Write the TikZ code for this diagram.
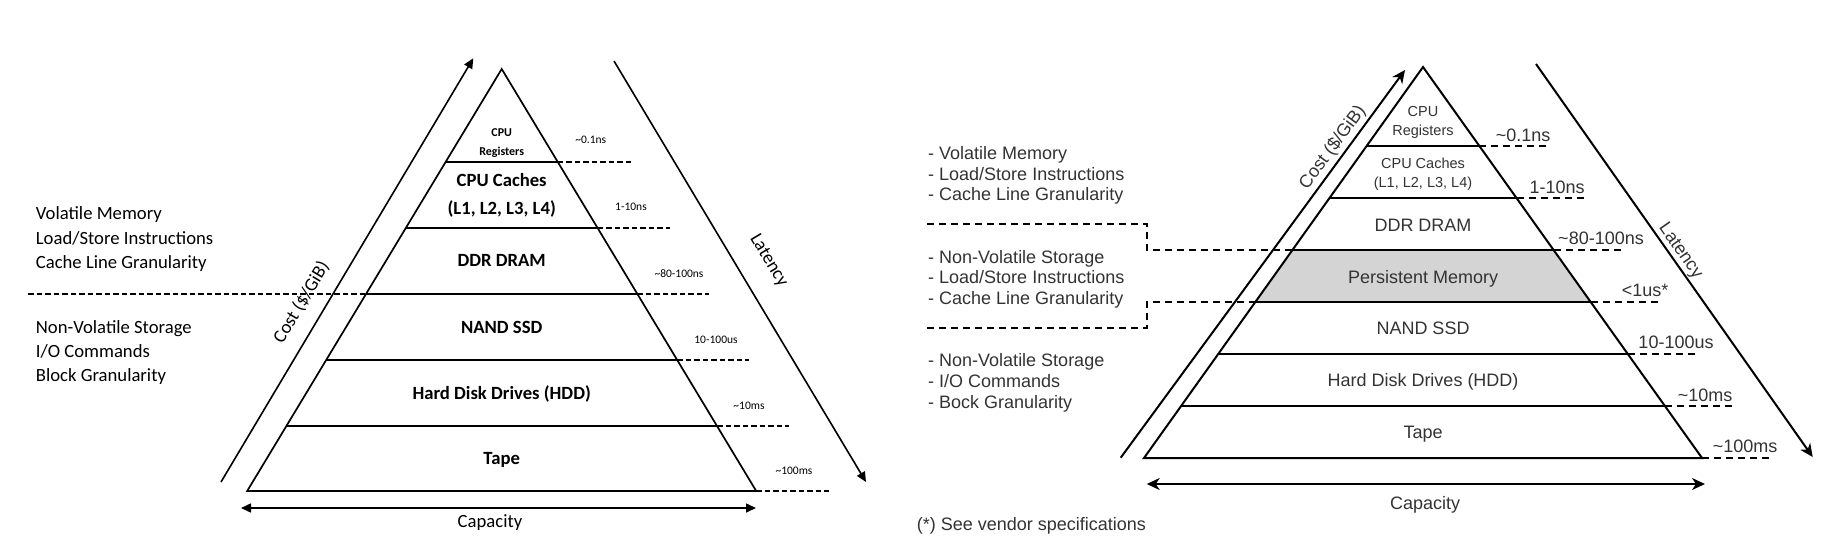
\documentclass[tikz,border=0pt]{standalone}
\usepackage{fontspec}
\newfontfamily\fcal{Carlito}
\newfontfamily\farial{Liberation Sans}
\usetikzlibrary{arrows.meta,calc}
\definecolor{rtext}{HTML}{333333}
\definecolor{pmfill}{HTML}{D4D4D4}
\begin{document}
\begin{tikzpicture}[x=1pt,y=-1pt,
  Lbig/.style={font=\fcal\bfseries\fontsize{18.67}{22}\selectfont, inner sep=0pt, text height=12pt, text depth=0pt},
  Lside/.style={font=\fcal\fontsize{18.67}{22}\selectfont, inner sep=0pt, text height=12pt, text depth=0pt},
  Lsmall/.style={font=\fcal\fontsize{11.5}{14}\selectfont, inner sep=0pt, text height=7.4pt, text depth=0pt},
  Lreg/.style={font=\fcal\bfseries\fontsize{12}{14}\selectfont, inner sep=0pt, text height=7.7pt, text depth=0pt},
  Lline/.style={line width=1.7pt},
  Ldash/.style={line width=1.4pt, dash pattern=on 5.5pt off 3pt},
  Ltip/.style={line width=1.6pt},
  Rbig/.style={font=\farial\fontsize{18}{21}\selectfont, text=rtext, inner sep=0pt, text height=12.9pt, text depth=0pt},
  Rmid/.style={font=\farial\fontsize{14.5}{17}\selectfont, text=rtext, inner sep=0pt, text height=10.4pt, text depth=0pt},
  Rline/.style={line width=2pt},
  Rdash/.style={line width=2pt, dash pattern=on 7pt off 5pt},
  Rtip/.style={line width=2pt},
]
\fill[white] (0,0) rectangle (1843,549);
\useasboundingbox (0,0) rectangle (1843,549);

% ================= LEFT DIAGRAM =================
\coordinate (LA) at (501.7,69);
\coordinate (LBL) at (247.2,491);
\coordinate (LBR) at (756.2,491);
\draw[Lline, line join=miter] (LBL) -- (LA) -- (LBR) -- cycle;
\draw[Lline] (445.6,162) -- (557.8,162);
\draw[Lline] (405.8,228) -- (597.6,228);
\draw[Lline] (366,294) -- (637.4,294);
\draw[Lline] (326.2,360) -- (677.2,360);
\draw[Lline] (286.4,426) -- (717,426);

% latency dashes
\draw[Ldash] (557.8,162) -- (631,162);
\draw[Ldash] (597.6,228) -- (670,228);
\draw[Ldash] (637.4,294) -- (709,294);
\draw[Ldash] (677.2,360) -- (749,360);
\draw[Ldash] (717,426) -- (789,426);
\draw[Ldash] (756.2,491) -- (829,491);
% separator
\draw[Ldash] (28,294) -- (366,294);

% arrows
\coordinate (LC0) at (221,482);
\coordinate (LC1) at (473.3,58.3);
\draw[Ltip, -{Triangle[length=10pt,width=9pt]}] (LC0) -- (LC1);
\coordinate (LL0) at (614,61);
\coordinate (LL1) at (866,482);
\draw[Ltip, -{Triangle[length=10pt,width=9pt]}] (LL0) -- (LL1);
\coordinate (LK0) at (241,508);
\coordinate (LK1) at (756,508);
\draw[Ltip, {Triangle[length=10pt,width=9pt]}-{Triangle[length=10pt,width=9pt]}] (LK0) -- (LK1);

\node[Lside, rotate=59.2] (lcost) at (301,302) {Cost (\$/GiB)};
\node[Lside, rotate=-59.1] (llat) at (770,260) {Latency};
\node[Lside] (lcap) at (490,521) {Capacity};

% layer texts
\node[Lreg] (lreg1) at (501.7,133) {CPU};
\node[Lreg] (lreg2) at (501.7,152) {Registers};
\node[Lbig] (lcac1) at (501.7,180) {CPU Caches};
\node[Lbig] (lcac2) at (501.7,208) {(L1, L2, L3, L4)};
\node[Lbig] (lddr) at (501.7,260) {DDR DRAM};
\node[Lbig] (lnand) at (501.7,327) {NAND SSD};
\node[Lbig] (lhdd) at (501.7,393) {Hard Disk Drives (HDD)};
\node[Lbig] (ltape) at (501.7,458) {Tape};

% latency labels
\node[Lsmall] (ll1) at (590.7,140) {\textasciitilde0.1ns};
\node[Lsmall] (ll2) at (631,207) {1-10ns};
\node[Lsmall] (ll3) at (679,274) {\textasciitilde80-100ns};
\node[Lsmall] (ll4) at (716,340) {10-100us};
\node[Lsmall] (ll5) at (749,406) {\textasciitilde10ms};
\node[Lsmall] (ll6) at (794,471) {\textasciitilde100ms};

% side texts
\node[Lside, anchor=west] (ls1) at (35.7,213) {Volatile Memory};
\node[Lside, anchor=west] (ls2) at (35.7,238) {Load/Store Instructions};
\node[Lside, anchor=west] (ls3) at (35.7,262) {Cache Line Granularity};
\node[Lside, anchor=west] (ls4) at (35.7,327) {Non-Volatile Storage};
\node[Lside, anchor=west] (ls5) at (35.7,351) {I/O Commands};
\node[Lside, anchor=west] (ls6) at (35.7,375) {Block Granularity};

% ================= RIGHT DIAGRAM =================
\coordinate (RA) at (1423,67);
\coordinate (RBL) at (1144,458);
\coordinate (RBR) at (1702,458);
\fill[pmfill] (1292.4,250) -- (1553.6,250) -- (1590.7,302) -- (1255.3,302) -- cycle;
\draw[Rline, line join=miter] (RBL) -- (RA) -- (RBR) -- cycle;
\draw[Rline] (1366.6,146) -- (1479.4,146);
\draw[Rline] (1329.5,198) -- (1516.5,198);
\draw[Rline] (1292.4,250) -- (1553.6,250);
\draw[Rline] (1255.3,302) -- (1590.7,302);
\draw[Rline] (1218.2,354) -- (1627.8,354);
\draw[Rline] (1181.1,406) -- (1664.9,406);

% latency dashes
\draw[Rdash] (1479.4,146) -- (1550,146);
\draw[Rdash] (1516.5,198) -- (1587,198);
\draw[Rdash] (1553.6,250) -- (1623,250);
\draw[Rdash] (1590.7,302) -- (1662,302);
\draw[Rdash] (1627.8,354) -- (1697,354);
\draw[Rdash] (1664.9,406) -- (1732,406);
\draw[Rdash] (1702,458) -- (1770,458);

% separators
\draw[Rdash] (927,224) -- (1147,224) -- (1147,250) -- (1292.4,250);
\draw[Rdash] (927,328) -- (1147,328) -- (1147,302) -- (1255.3,302);

% arrows
\coordinate (RC0) at (1120.7,457.7);
\coordinate (RC1) at (1405,70);
\draw[Rtip, -{Stealth[length=13pt,width=12pt,inset=4pt]}] (RC0) -- (RC1);
\coordinate (RL0) at (1536,64);
\coordinate (RL1) at (1812.7,457);
\draw[Rtip, -{Stealth[length=13pt,width=12pt,inset=4pt]}] (RL0) -- (RL1);
\coordinate (RK0) at (1146.7,484);
\coordinate (RK1) at (1705,484);
\draw[Rtip, {Stealth[length=13pt,width=12pt,inset=4pt]}-{Stealth[length=13pt,width=12pt,inset=4pt]}] (RK0) -- (RK1);

\node[Rbig, rotate=53.7] (rcost) at (1331.5,146.7) {Cost (\$/GiB)};
\node[Rbig, rotate=-54.9] (rlat) at (1682,250) {Latency};
\node[Rbig] (rcap) at (1425,503) {Capacity};

% layer texts
\node[Rmid] (rreg1) at (1423,111) {CPU};
\node[Rmid] (rreg2) at (1423,130) {Registers};
\node[Rmid] (rcac1) at (1423,163) {CPU Caches};
\node[Rmid] (rcac2) at (1423,182) {(L1, L2, L3, L4)};
\node[Rbig] (rddr) at (1423,225) {DDR DRAM};
\node[Rbig] (rpm) at (1423,277) {Persistent Memory};
\node[Rbig] (rnand) at (1423,328) {NAND SSD};
\node[Rbig] (rhdd) at (1423,380) {Hard Disk Drives (HDD)};
\node[Rbig] (rtape) at (1423,432) {Tape};

% latency labels
\node[Rbig] (rl1) at (1523,135) {\textasciitilde0.1ns};
\node[Rbig] (rl2) at (1557,187) {1-10ns};
\node[Rbig] (rl3) at (1601,238) {\textasciitilde80-100ns};
\node[Rbig] (rl4) at (1645,290) {<1us*};
\node[Rbig] (rl5) at (1676,342) {10-100us};
\node[Rbig] (rl6) at (1705,395) {\textasciitilde10ms};
\node[Rbig] (rl7) at (1745,446) {\textasciitilde100ms};

% side texts
\node[Rbig, anchor=west] (rs1) at (928,153.3) {- Volatile Memory};
\node[Rbig, anchor=west] (rs2) at (928,173.8) {- Load/Store Instructions};
\node[Rbig, anchor=west] (rs3) at (928,194.3) {- Cache Line Granularity};
\node[Rbig, anchor=west] (rs4) at (928,256.7) {- Non-Volatile Storage};
\node[Rbig, anchor=west] (rs5) at (928,277.2) {- Load/Store Instructions};
\node[Rbig, anchor=west] (rs6) at (928,298.3) {- Cache Line Granularity};
\node[Rbig, anchor=west] (rs7) at (928,360) {- Non-Volatile Storage};
\node[Rbig, anchor=west] (rs8) at (928,380.7) {- I/O Commands};
\node[Rbig, anchor=west] (rs9) at (928,401.7) {- Bock Granularity};
\node[Rbig, anchor=west] (rnote) at (916.7,524) {(*) See vendor specifications};
\end{tikzpicture}
\end{document}
